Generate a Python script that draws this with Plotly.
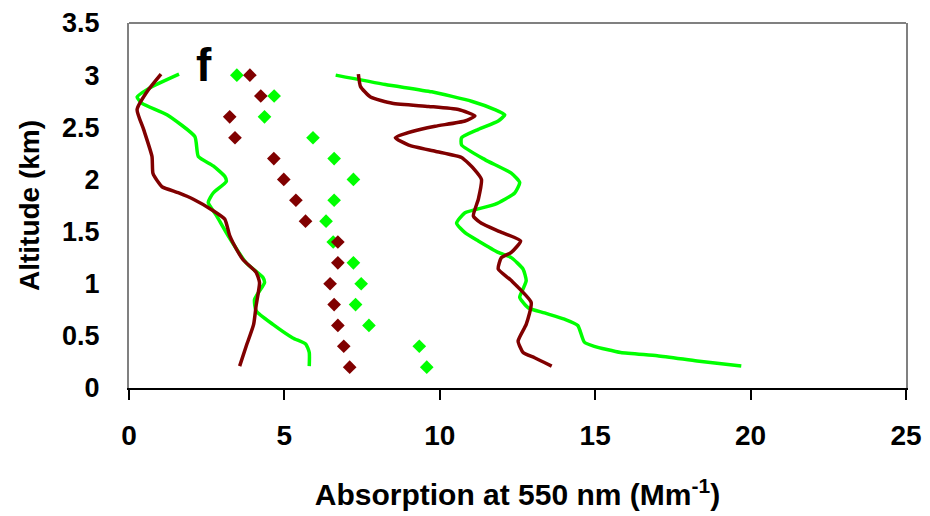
import plotly.graph_objects as go

# Absorption profiles at 550 nm (Mm^-1) versus altitude (km)
green_left_abs = [1.61, 0.68, 0.26, 0.42, 1.22, 2.12, 2.23, 2.71, 3.08, 3.13, 2.71, 2.55, 2.82, 3.19,
                  3.77, 4.31, 4.36, 4.04, 4.09, 4.63, 5.27, 5.69, 5.80, 5.80]
green_left_alt = [3.01, 2.88, 2.79, 2.73, 2.62, 2.41, 2.22, 2.13, 2.03, 1.98, 1.87, 1.78, 1.65, 1.46,
                  1.20, 1.06, 1.01, 0.85, 0.74, 0.61, 0.48, 0.42, 0.34, 0.21]

brown_left_abs = [1.03, 0.60, 0.26, 0.47, 0.74, 0.77, 0.95, 1.06, 1.60, 2.07, 2.71, 3.08, 3.24, 3.35,
                  3.67, 4.09, 4.20, 4.09, 4.01, 3.77, 3.56]
brown_left_alt = [3.01, 2.85, 2.67, 2.48, 2.22, 2.06, 1.97, 1.93, 1.87, 1.81, 1.70, 1.62, 1.46, 1.39,
                  1.23, 1.11, 1.01, 0.79, 0.61, 0.40, 0.21]

green_right_abs = [6.65, 8.25, 9.74, 11.02, 11.77, 12.09, 11.88, 11.24, 10.70, 10.70, 11.45, 12.30,
                   12.57, 12.41, 11.77, 10.81, 10.54, 10.81, 11.24, 11.88, 12.30, 12.68, 12.78, 12.68,
                   12.57, 12.84, 13.37, 14.01, 14.44, 14.65, 14.97, 15.82, 17.00, 18.28, 19.70]
green_right_alt = [3.00, 2.91, 2.84, 2.75, 2.67, 2.62, 2.56, 2.48, 2.40, 2.33, 2.19, 2.06,
                   1.97, 1.87, 1.76, 1.68, 1.58, 1.49, 1.41, 1.30, 1.25, 1.14, 1.03, 0.95,
                   0.87, 0.77, 0.72, 0.66, 0.60, 0.44, 0.40, 0.34, 0.31, 0.26, 0.21]

brown_right_abs = [7.38, 7.45, 7.77, 8.47, 9.64, 10.60, 11.13, 10.81, 9.85, 9.11, 8.57, 9.00, 9.85,
                   10.70, 11.13, 11.34, 11.24, 11.08, 11.34, 11.93, 12.60, 12.30, 11.98, 11.88,
                   12.30, 12.94, 12.78, 12.52, 12.68, 13.05, 13.60]
brown_right_alt = [3.01, 2.89, 2.79, 2.73, 2.70, 2.67, 2.61, 2.56, 2.51, 2.46, 2.40, 2.33, 2.27,
                   2.21, 2.09, 2.00, 1.81, 1.65, 1.58, 1.50, 1.41, 1.30, 1.25, 1.14,
                   1.03, 0.82, 0.61, 0.45, 0.34, 0.29, 0.21]

# Layer-mean values
diamond_alt = [3.0, 2.8, 2.6, 2.4, 2.2, 2.0, 1.8, 1.6, 1.4, 1.2, 1.0, 0.8, 0.6, 0.4, 0.2]
brown_diamond_abs = [3.89, 4.24, 3.24, 3.41, 4.66, 4.98, 5.37, 5.68, 6.72, 6.72, 6.47, 6.60, 6.72, 6.91, 7.10]
green_diamond_abs = [3.47, 4.67, 4.36, 5.92, 6.60, 7.22, 6.60, 6.34, 6.57, 7.22, 7.47, 7.29, 7.72, 9.34, 9.58]

x_ticks = [0, 5, 10, 15, 20, 25]
y_ticks = [0, 0.5, 1, 1.5, 2, 2.5, 3, 3.5]

GREEN = "#00FF00"
BROWN = "#800000"
FONT = "Liberation Sans, Arial, sans-serif"

fig = go.Figure()

for xs, ys, col in [(green_left_abs, green_left_alt, GREEN),
                    (green_right_abs, green_right_alt, GREEN),
                    (brown_left_abs, brown_left_alt, BROWN),
                    (brown_right_abs, brown_right_alt, BROWN)]:
    fig.add_trace(go.Scatter(x=xs, y=ys, mode="lines",
                             line=dict(color=col, width=3.5, shape="spline", smoothing=0.5),
                             showlegend=False))

for xs, col in [(green_diamond_abs, GREEN), (brown_diamond_abs, BROWN)]:
    fig.add_trace(go.Scatter(x=xs, y=diamond_alt, mode="markers",
                             marker=dict(symbol="diamond", size=10.5, color=col,
                                         line=dict(width=0)),
                             showlegend=False))

fig.add_annotation(x=2.41, y=3.10, xref="x", yref="y", text="f", showarrow=False,
                   font=dict(family=FONT, size=46, color="black", weight="bold"))

# Gray frame along the top of the plotting area
fig.add_shape(type="line", xref="paper", yref="paper", x0=0, x1=1, y0=1, y1=1,
              line=dict(color="#808080", width=2))

fig.update_layout(
    template="none",
    width=930, height=516,
    margin=dict(l=129, r=24, t=23, b=128),
    paper_bgcolor="white", plot_bgcolor="white",
    font=dict(family=FONT, color="black"),
    xaxis=dict(
        range=[0, 25], tickvals=x_ticks, showgrid=False, zeroline=False,
        automargin=False,
        showline=True, linecolor="black", linewidth=1.5,
        ticks="outside", ticklen=10, tickcolor="black", tickwidth=1.5,
        ticklabelstandoff=12,
        tickfont=dict(family=FONT, size=28, weight="bold"),
        title=dict(text="Absorption at 550 nm (Mm<sup>-1</sup>)", standoff=34,
                   font=dict(family=FONT, size=30, weight="bold")),
    ),
    yaxis=dict(
        range=[0, 3.5], tickvals=y_ticks, showgrid=False, zeroline=False,
        automargin=False,
        showline=True, linecolor="#808080", linewidth=2, mirror=True,
        ticks="", ticklabelstandoff=22,
        tickfont=dict(family=FONT, size=27, weight="bold"),
        title=dict(text="Altitude (km)", standoff=14,
                   font=dict(family=FONT, size=28, weight="bold")),
    ),
)

fig.write_html("out.html")
